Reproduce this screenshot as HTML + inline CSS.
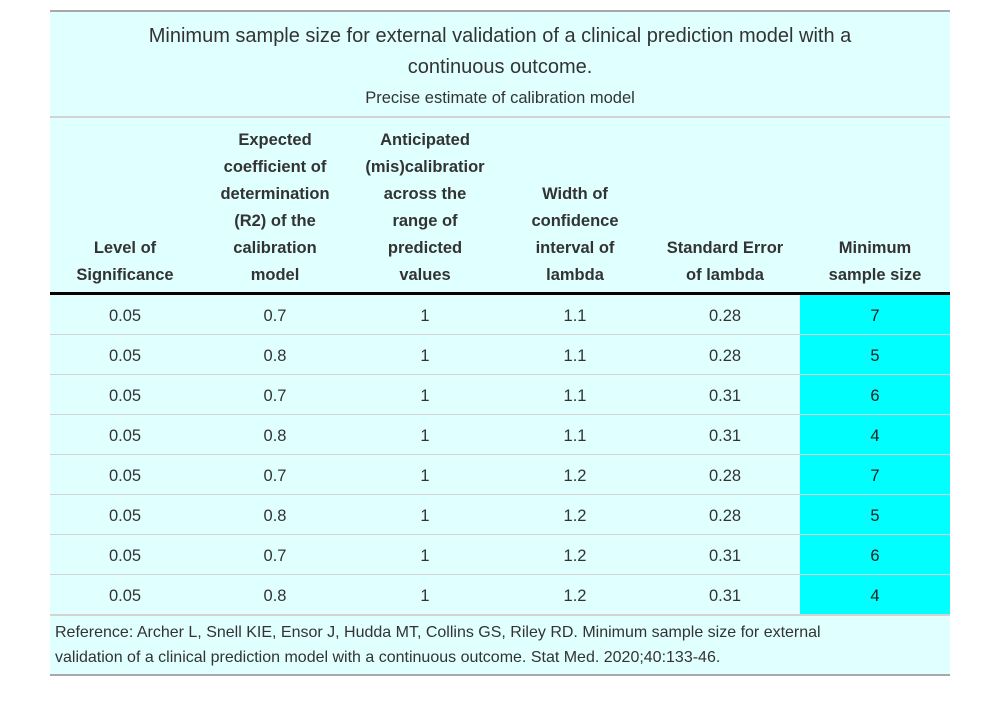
<!DOCTYPE html>
<html><head><meta charset="utf-8">
<style>
html,body{margin:0;padding:0;background:#fff;width:998px;height:723px;overflow:hidden;font-family:"Liberation Sans",sans-serif;color:#333;}
#tbl{position:absolute;left:50px;top:10px;width:900px;background:#e0ffff;border-top:2px solid #a8a8a8;border-bottom:2px solid #a8a8a8;}
.title{height:104px;border-bottom:2px solid #d3d3d3;text-align:center;position:relative;}
.t1{position:absolute;left:0;right:0;top:9px;font-size:20px;line-height:31px;color:#333;}
.t2{position:absolute;left:0;right:0;top:74px;font-size:16.5px;line-height:24px;color:#333;}
table{border-collapse:collapse;width:900px;table-layout:fixed;}
th{height:171px;vertical-align:bottom;font-weight:bold;font-size:16.5px;line-height:27px;padding:0 4px 3px 4px;text-align:center;border-bottom:3px solid #000;color:#333;}
td{height:35px;padding:4px 0 0 0;border-bottom:1px solid #d3d3d3;text-align:center;font-size:16.5px;color:#333;}
td.hl{background:#00ffff;}
tr:last-child td{border-bottom:2px solid #d3d3d3;}
.foot{height:58px;padding:4px 5px 0 5px;font-size:16px;line-height:25px;color:#333;box-sizing:border-box;white-space:nowrap;}
</style></head>
<body>
<div id="tbl">
  <div class="title">
    <div class="t1">Minimum sample size for external validation of a clinical prediction model with a<br>continuous outcome.</div>
    <div class="t2">Precise estimate of calibration model</div>
  </div>
  <table>
    <thead><tr>
      <th>Level of<br>Significance</th>
      <th>Expected<br>coefficient of<br>determination<br>(R2) of the<br>calibration<br>model</th>
      <th style="white-space:nowrap;overflow:hidden;">Anticipated<br>(mis)calibratior<br>across the<br>range of<br>predicted<br>values</th>
      <th>Width of<br>confidence<br>interval of<br>lambda</th>
      <th>Standard Error<br>of lambda</th>
      <th>Minimum<br>sample size</th>
    </tr></thead>
    <tbody id="body"></tbody>
  </table>
  <div class="foot">Reference: Archer L, Snell KIE, Ensor J, Hudda MT, Collins GS, Riley RD. Minimum sample size for external<br>validation of a clinical prediction model with a continuous outcome. Stat Med. 2020;40:133-46.</div>
</div>
<script>
const significance = ["0.05","0.05","0.05","0.05","0.05","0.05","0.05","0.05"];
const r2 = ["0.7","0.8","0.7","0.8","0.7","0.8","0.7","0.8"];
const miscalibration = ["1","1","1","1","1","1","1","1"];
const ciWidth = ["1.1","1.1","1.1","1.1","1.2","1.2","1.2","1.2"];
const stdError = ["0.28","0.28","0.31","0.31","0.28","0.28","0.31","0.31"];
const minSampleSize = ["7","5","6","4","7","5","6","4"];
const colNames = ["significance","r2","miscalibration","ci-width","standard-error","min-sample-size"];
const body = document.getElementById('body');
for (let i = 0; i < significance.length; i++) {
  const tr = document.createElement('tr');
  
  
  const vals = [significance[i], r2[i], miscalibration[i], ciWidth[i], stdError[i], minSampleSize[i]];
  vals.forEach((v, j) => {
    const td = document.createElement('td');
    td.textContent = v;
    
    
    if (j === 5) { td.className = 'hl'; td.style.color = '#222'; }
    tr.appendChild(td);
  });
  body.appendChild(tr);
}
</script>
</body></html>
